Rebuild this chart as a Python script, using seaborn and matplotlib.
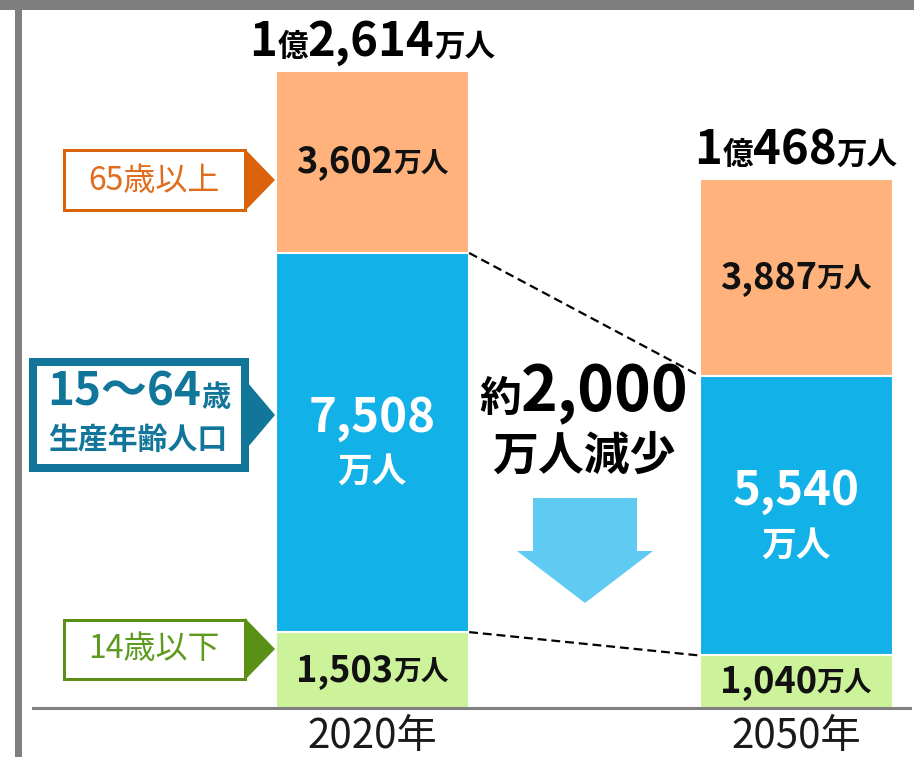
import pandas as pd
import seaborn as sns
import matplotlib.pyplot as plt
from matplotlib.patches import Rectangle, Polygon
from matplotlib.offsetbox import TextArea, HPacker, AnnotationBbox

# population (万人)
years = ['2020年', '2050年']
young = [1503, 1040]      # 14歳以下
working = [7508, 5540]    # 15～64歳
elderly = [3602, 3887]    # 65歳以上
total_oku = ['1', '1']
total_man = ['2,614', '468']
young_lbl = ['1,503', '1,040']
working_lbl = ['7,508', '5,540']
elderly_lbl = ['3,602', '3,887']

sns.set_style('white')
plt.rcParams['font.family'] = ['Noto Sans CJK JP', 'DejaVu Sans']

W, H = 914, 757
fig = plt.figure(figsize=(W / 100, H / 100), dpi=100)


def fx(x):
    return x / W


def fy(y):
    return 1 - y / H


c_old, c_work, c_young = '#FFB27B', '#12B1E8', '#CCF29A'
c_old_dk, c_work_dk, c_young_dk = '#DA620B', '#12769B', '#5A9016'

ax = fig.add_axes([fx(33), fy(708), fx(910) - fx(33), fy(10) - fy(708)])

df = pd.DataFrame({'year': years, 'young': young, 'working': working, 'elderly': elderly})
df['mid'] = df['young'] + df['working']
df['top'] = df['mid'] + df['elderly']

bw = 0.456
for col, c in [('top', c_old), ('mid', c_work), ('young', c_young)]:
    sns.barplot(data=df, x='year', y=col, color=c, width=bw, saturation=1,
                edgecolor='white', linewidth=1.5, errorbar=None, ax=ax)

px_per = 0.0505
ax.set_ylim(0, 698 / px_per)
ax.set_xlim(-0.8017, 1.269)
ax.set_xlabel('')
ax.set_ylabel('')
ax.set_yticks([])
ax.tick_params(axis='x', length=0, pad=6, labelsize=29, labelcolor='#1a1a1a')
for s in ['left', 'top', 'right']:
    ax.spines[s].set_visible(False)
ax.spines['bottom'].set_color('#808080')
ax.spines['bottom'].set_linewidth(2.2)

# dashed connectors
for col in ['mid', 'young']:
    ax.plot([bw / 2, 1 - bw / 2], df[col], ls=(0, (4, 2.2)), color='black', lw=1.6)


def mixed(parts, xy, xycoords='data', offset=(0, 0), target=None):
    areas = [TextArea(s, textprops=dict(fontsize=fs, fontweight=w, color=c))
             for s, fs, w, c in parts]
    pack = HPacker(children=areas, align='baseline', pad=0, sep=0)
    ab = AnnotationBbox(pack, xy, xycoords=xycoords, xybox=offset,
                        boxcoords='offset points', frameon=False,
                        box_alignment=(0.5, 0.5), annotation_clip=False)
    (target or ax).add_artist(ab)


for i in range(2):
    # total above bar
    mixed([(total_oku[i], 34, 'bold', 'black'), ('億', 22, 'bold', 'black'),
           (total_man[i], 34, 'bold', 'black'), ('万人', 22, 'bold', 'black')],
          (i, df['top'][i]), offset=(0, 21))
    # elderly
    mixed([(elderly_lbl[i], 26, 'bold', '#111111'), ('万人', 20, 'bold', '#111111')],
          (i, df['mid'][i] + elderly[i] / 2))
    # working
    wmid = young[i] + working[i] / 2
    mixed([(working_lbl[i], 34, 'bold', 'white')], (i, wmid), offset=(0, 18))
    mixed([('万人', 25, 'bold', 'white')], (i, wmid), offset=(0, -21))
    # young
    mixed([(young_lbl[i], 26, 'bold', '#111111'), ('万人', 20, 'bold', '#111111')],
          (i, young[i] / 2))

# middle annotation
mixed([('約', 30, 'bold', 'black'), ('2,000', 45, 'bold', 'black')],
      (fx(584), fy(393)), xycoords='figure fraction', target=fig)
mixed([('万人減少', 33, 'bold', 'black')],
      (fx(584), fy(457)), xycoords='figure fraction', target=fig)

arrow = [(533, 498), (637, 498), (637, 551), (653, 551), (585, 603), (517, 551), (533, 551)]
fig.add_artist(Polygon([(fx(x), fy(y)) for x, y in arrow], closed=True,
                       transform=fig.transFigure, color='#5FCBF2', lw=0))


# side labels
def side_box(x0, y0, x1, y1, lw_px, color, tri):
    h = lw_px / 2
    fig.add_artist(Rectangle((fx(x0 + h), fy(y1 - h)), fx(x1 - h) - fx(x0 + h),
                             fy(y0 + h) - fy(y1 - h), transform=fig.transFigure,
                             facecolor='white', edgecolor=color, lw=lw_px * 0.72))
    fig.add_artist(Polygon([(fx(x), fy(y)) for x, y in tri], closed=True,
                           transform=fig.transFigure, color=color, lw=0))


side_box(62, 149, 246, 211, 3, c_old_dk, [(245, 149), (275, 180), (245, 211)])
mixed([('65歳以上', 23, 'normal', '#E06C1C')], (fx(154), fy(181)),
      xycoords='figure fraction', target=fig)

side_box(29, 358, 249, 472, 8, c_work_dk, [(248, 383), (275, 415), (248, 447)])
mixed([('15〜64', 33, 'bold', c_work_dk), ('歳', 21, 'bold', c_work_dk)],
      (fx(139), fy(393)), xycoords='figure fraction', target=fig)
mixed([('生産年齢人口', 21.5, 'bold', c_work_dk)], (fx(138), fy(440)),
      xycoords='figure fraction', target=fig)

side_box(62, 618, 246, 680, 3, c_young_dk, [(245, 618), (275, 649), (245, 680)])
mixed([('14歳以下', 23, 'normal', '#5E9A1E')], (fx(154), fy(649)),
      xycoords='figure fraction', target=fig)

# grey frame
fig.add_artist(Rectangle((0, fy(10)), 1, 1 - fy(10), transform=fig.transFigure,
                         color='#7f7f7f', lw=0))
fig.add_artist(Rectangle((fx(15), 0), fx(22) - fx(15), fy(10), transform=fig.transFigure,
                         color='#7f7f7f', lw=0))

fig.savefig('out.png', dpi=100)
